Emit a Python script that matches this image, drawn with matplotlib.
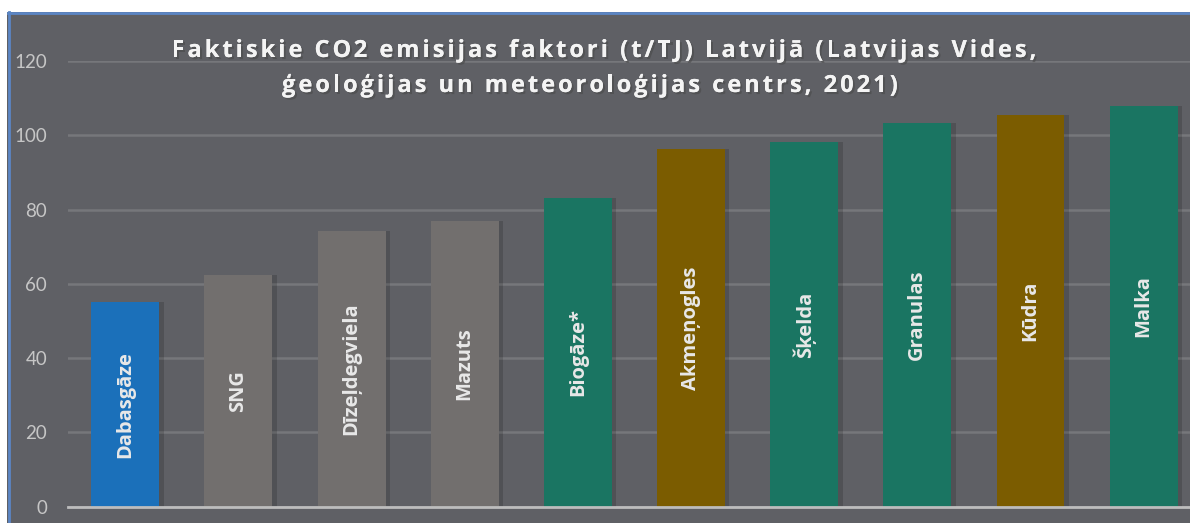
import matplotlib.pyplot as plt
from matplotlib.patches import Rectangle
import matplotlib.patheffects as pe

# data
fuels = ["Dabasgāze", "SNG", "Dīzeļdegviela", "Mazuts", "Biogāze*",
         "Akmeņogles", "Šķelda", "Granulas", "Kūdra", "Malka"]
factors = [55.2, 62.4, 74.1, 77.0, 83.2, 96.2, 98.1, 103.4, 105.5, 108.0]
groups = ["gas", "fossil", "fossil", "fossil", "bio",
          "coal", "bio", "bio", "coal", "bio"]
yticks = [0, 20, 40, 60, 80, 100, 120]
title_lines = ["Faktiskie CO2 emisijas faktori (t/TJ) Latvijā (Latvijas Vides,",
               "ģeoloģijas un meteoroloģijas centrs, 2021)"]

colors = {"gas": "#1b70ba", "fossil": "#726f6e", "bio": "#1a7562", "coal": "#7b5c00"}
bg = "#5f6065"

W, H = 1190, 523
fig = plt.figure(figsize=(W / 100, H / 100), dpi=100, facecolor=bg)

# white margin and blue frame of the screenshot
fig.add_artist(Rectangle((0, 1 - 12 / H), 1, 12 / H, transform=fig.transFigure,
                         facecolor="white", edgecolor="none", zorder=5))
fig.add_artist(Rectangle((0, 0), 7 / W, 1, transform=fig.transFigure,
                         facecolor="white", edgecolor="none", zorder=5))
fig.add_artist(plt.Line2D([7.5 / W, 1], [1 - 12.5 / H] * 2, transform=fig.transFigure,
                          color="#5b86c5", lw=2, zorder=6))
fig.add_artist(plt.Line2D([8.5 / W] * 2, [0, 1 - 12 / H], transform=fig.transFigure,
                          color="#5b86c5", lw=2, zorder=6))

ax = fig.add_axes([68 / W, 16.3 / H, 1 - 68 / W, (506.7 - 61) / H])
ax.set_facecolor(bg)
x = list(range(len(fuels)))
# soft shadow behind bars
ax.bar([i + 0.03 for i in x], factors, width=0.62, color="black", alpha=0.15, zorder=2)
ax.bar(x, factors, width=0.6, color=[colors[g] for g in groups], zorder=3)

for i, (name, v) in enumerate(zip(fuels, factors)):
    ax.text(i, v / 2, name, rotation=90, ha="center", va="center", color="#e8e8e8",
            fontsize=14.5, fontweight="bold", family=["Open Sans", "DejaVu Sans"], zorder=4)

ax.set_xlim(-0.506, 9.41)
ax.set_ylim(0, 120)
ax.set_yticks(yticks)
ax.set_xticks([])
ax.tick_params(axis="y", length=0, pad=15, labelsize=13.5, labelcolor="#c6c6c6")
for lab in ax.get_yticklabels():
    lab.set_family(["Lato", "DejaVu Sans"])
ax.grid(axis="y", color="#76777b", lw=1.8, zorder=1)
for s in ["top", "right", "left"]:
    ax.spines[s].set_visible(False)
ax.spines["bottom"].set_color("#bdbdbd")
ax.spines["bottom"].set_linewidth(2)
ax.spines["bottom"].set_zorder(5)

# letter-spaced title, drawn one character at a time
renderer = fig.canvas.get_renderer()
tkw = dict(color="#f4f4f4", fontsize=17, fontweight="bold",
           family=["Open Sans", "DejaVu Sans"], va="baseline", ha="left", zorder=7,
           path_effects=[pe.withSimplePatchShadow(offset=(1.5, -1.5), alpha=0.6),
                         pe.Normal()])


def text_width(s):
    t = fig.text(0, 0, s + "|", **tkw)
    w = t.get_window_extent(renderer).width
    t.remove()
    return w


bar_w = text_width("")
spacing = 3.0
for line, cx, base in zip(title_lines, [604, 590], [57, 92]):
    offsets = [text_width(line[:k]) - bar_w + k * spacing for k in range(len(line))]
    total = text_width(line) - bar_w + (len(line) - 1) * spacing
    x0 = cx - total / 2
    for ch, off in zip(line, offsets):
        if ch != " ":
            fig.text((x0 + off) / W, 1 - base / H, ch, **tkw)

fig.savefig("out.png", dpi=100, facecolor=bg)
